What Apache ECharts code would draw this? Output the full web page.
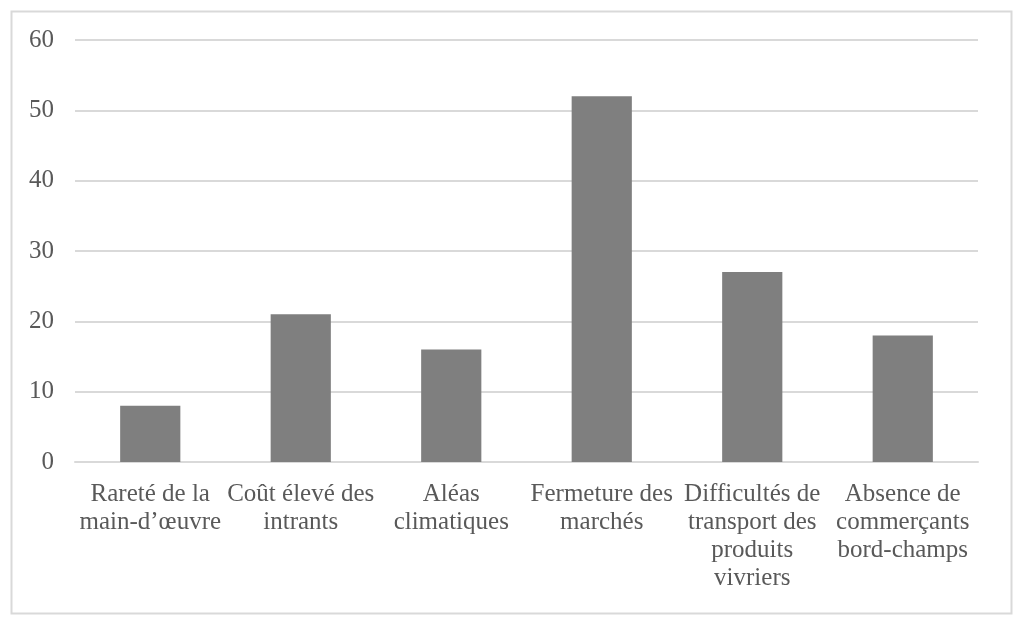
<!DOCTYPE html>
<html><head><meta charset="utf-8">
<script src="https://cdn.jsdelivr.net/npm/echarts@6/dist/echarts.min.js"></script>
<style>html,body{margin:0;padding:0;background:#fff}#c{width:1024px;height:626px}</style>
</head><body><div id="c"></div>
<script>
const categories = [
  "Rareté de la\nmain-d’œuvre",
  "Coût élevé des\nintrants",
  "Aléas\nclimatiques",
  "Fermeture des\nmarchés",
  "Difficultés de\ntransport des\nproduits\nvivriers",
  "Absence de\ncommerçants\nbord-champs"
];
const values = [8, 21, 16, 52, 27, 18];
const yTicks = [0, 10, 20, 30, 40, 50, 60];

const chart = echarts.init(document.getElementById('c'), null, {renderer: 'canvas'});
chart.setOption({
  animation: false,
  backgroundColor: '#fff',
  graphic: [{
    type: 'rect', left: 9, top: 9,
    shape: {width: 1000, height: 602},
    style: {fill: 'none', stroke: '#d9d9d9', lineWidth: 2},
    silent: true
  }],
  grid: {left: 75, right: 46, top: 40, bottom: 164, containLabel: false},
  xAxis: {
    type: 'category',
    data: categories,
    axisLine: {show: true, lineStyle: {color: '#d9d9d9', width: 2}},
    axisTick: {show: false},
    axisLabel: {
      color: '#595959', fontFamily: 'Liberation Serif', fontSize: 25,
      lineHeight: 28, margin: 18, interval: 0
    }
  },
  yAxis: {
    type: 'value',
    min: yTicks[0], max: yTicks[yTicks.length - 1], interval: 10,
    axisLine: {show: false},
    axisTick: {show: false},
    splitLine: {lineStyle: {color: '#d9d9d9', width: 2}},
    axisLabel: {color: '#595959', fontFamily: 'Liberation Serif', fontSize: 25, margin: 21}
  },
  series: [{
    type: 'bar',
    data: values,
    barWidth: '40%',
    itemStyle: {color: '#7f7f7f'}
  }]
});
</script></body></html>
